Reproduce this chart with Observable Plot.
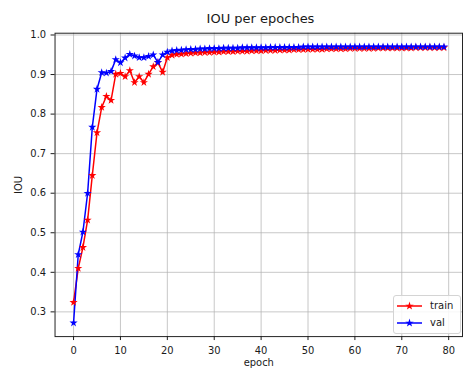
<!DOCTYPE html>
<html><head><meta charset="utf-8">
<script src="https://cdn.jsdelivr.net/npm/d3@7"></script>
<script src="https://cdn.jsdelivr.net/npm/@observablehq/plot@0.6"></script>
<style>
body{margin:0;background:#fff;}
#wrap{position:relative;width:464px;height:372px;overflow:hidden;font-family:"DejaVu Sans",sans-serif;background:#fff;}
#title{position:absolute;left:0;width:521px;top:11px;text-align:center;font-size:13px;color:#1a1a1a;}
#legend{position:absolute;left:393px;top:295px;width:66px;height:37px;border:1px solid #d4d4d4;border-radius:3px;background:rgba(255,255,255,0.85);font-size:10px;color:#1a1a1a;}
.row{position:absolute;left:3px;height:14px;line-height:14px;}
.row svg{position:absolute;left:0;top:2px;}
.row span{position:absolute;left:33px;top:0;}
</style>
</head><body>
<div id="wrap">
  <div id="chart"></div>
  <div id="title">IOU per epoches</div>
  <div id="legend"></div>
</div>
<script>
const epochs = d3.range(80);
const seriesNames = ["train", "val"];
const seriesColors = ["red", "blue"];
const trainIOU = [
0.324,0.410,0.463,0.532,0.645,0.753,0.817,0.845,0.835,0.901,
0.903,0.895,0.910,0.880,0.895,0.880,0.901,0.920,0.930,0.906,
0.943,0.949,0.951,0.952,0.953,0.954,0.955,0.955,0.956,0.956,
0.957,0.957,0.958,0.958,0.958,0.959,0.959,0.959,0.960,0.960,
0.960,0.961,0.961,0.961,0.962,0.962,0.962,0.963,0.963,0.963,
0.964,0.964,0.964,0.964,0.965,0.965,0.965,0.965,0.965,0.966,
0.966,0.966,0.966,0.966,0.966,0.967,0.967,0.967,0.967,0.967,
0.967,0.967,0.967,0.968,0.968,0.968,0.968,0.968,0.968,0.968];
const valIOU = [
0.272,0.445,0.502,0.600,0.767,0.863,0.905,0.904,0.908,0.938,
0.930,0.942,0.951,0.947,0.943,0.943,0.946,0.950,0.931,0.950,
0.957,0.960,0.961,0.962,0.963,0.964,0.964,0.965,0.965,0.966,
0.966,0.966,0.967,0.967,0.967,0.967,0.968,0.968,0.968,0.968,
0.968,0.968,0.969,0.969,0.969,0.969,0.969,0.969,0.969,0.970,
0.970,0.970,0.970,0.970,0.970,0.970,0.970,0.970,0.970,0.970,
0.970,0.970,0.970,0.970,0.970,0.970,0.970,0.970,0.970,0.970,
0.970,0.970,0.970,0.970,0.970,0.970,0.970,0.970,0.970,0.970];
const xTicks = [0,10,20,30,40,50,60,70,80];
const yTicks = [0.3,0.4,0.5,0.6,0.7,0.8,0.9,1.0];

const rows = [];
epochs.forEach((e,i)=>{ rows.push({epoch:e, iou:trainIOU[i], s:"train"}); });
epochs.forEach((e,i)=>{ rows.push({epoch:e, iou:valIOU[i], s:"val"}); });

const chart = Plot.plot({
  width: 468, height: 372,
  marginLeft: 55, marginRight: 2, marginTop: 33, marginBottom: 33,
  style: {fontFamily: "DejaVu Sans, sans-serif", fontSize: "10px", color: "#1a1a1a", background: "white"},
  x: {domain: [-3.95, 82.95]},
  y: {domain: [0.2375, 1.0045]},
  color: {domain: seriesNames, range: seriesColors},
  marks: [
    Plot.gridX(xTicks, {stroke: "#b0b0b0", strokeOpacity: 0.8, strokeWidth: 0.9}),
    Plot.gridY(yTicks, {stroke: "#b0b0b0", strokeOpacity: 0.8, strokeWidth: 0.9}),
    Plot.line(rows, {x: "epoch", y: "iou", z: "s", stroke: "s", strokeWidth: 1.5}),
    Plot.dot(rows, {x: "epoch", y: "iou", fill: "s", symbol: "star", r: 2.6, stroke: "none"}),
    Plot.frame({stroke: "#222", strokeWidth: 1}),
    Plot.axisX(xTicks, {tickSize: 4, tickPadding: 6, fontSize: 10, label: "epoch", labelAnchor: "center", labelArrow: "none", labelOffset: 30}),
    Plot.axisY(yTicks, {tickSize: 4, tickPadding: 5, fontSize: 10, tickFormat: d => d.toFixed(1), label: "IOU", labelAnchor: "center", labelArrow: "none", labelOffset: 40})
  ]
});
document.getElementById("chart").appendChild(chart);

const leg = document.getElementById("legend");
seriesNames.forEach((n,i)=>{
  const r = document.createElement("div");
  r.className = "row";
  r.style.top = (3 + i*17) + "px";
  const c = seriesColors[i];
  r.innerHTML = `<svg width="28" height="10"><line x1="0" y1="5" x2="25" y2="5" stroke="${c}" stroke-width="1.5"/><path transform="translate(12.5,5)" d="${d3.symbol(d3.symbolStar, 22)()}" fill="${c}"/></svg><span>${n}</span>`;
  leg.appendChild(r);
});
</script>
</body></html>
